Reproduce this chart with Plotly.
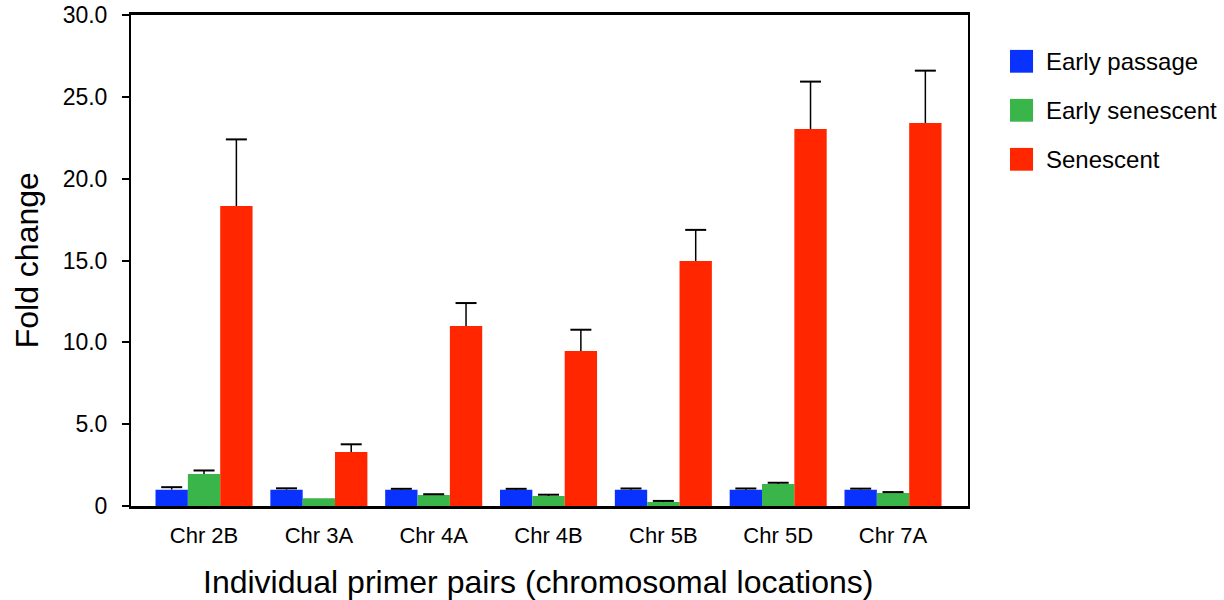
import plotly.graph_objects as go

categories = ["Chr 2B", "Chr 3A", "Chr 4A", "Chr 4B", "Chr 5B", "Chr 5D", "Chr 7A"]
series_names = ["Early passage", "Early senescent", "Senescent"]
early_passage = [1.0, 1.0, 1.0, 1.0, 1.0, 1.0, 1.0]
early_passage_err = [0.15, 0.08, 0.05, 0.05, 0.07, 0.07, 0.06]
early_senescent = [1.95, 0.47, 0.67, 0.61, 0.24, 1.34, 0.79]
early_senescent_err = [0.22, 0.0, 0.05, 0.08, 0.07, 0.08, 0.06]
senescent = [18.33, 3.30, 11.0, 9.47, 14.97, 23.03, 23.4]
senescent_err = [4.07, 0.47, 1.4, 1.3, 1.9, 2.9, 3.2]
colors = ["#0A32FF", "#39B54A", "#FF2600"]
y_ticks = [0, 5, 10, 15, 20, 25, 30]
y_tick_labels = ["0", "5.0", "10.0", "15.0", "20.0", "25.0", "30.0"]

FONT = "Liberation Sans, Arial, sans-serif"
x_pos = list(range(len(categories)))
group_width = 0.845
bar_w = group_width / 3

fig = go.Figure()
all_vals = [early_passage, early_senescent, senescent]
all_errs = [early_passage_err, early_senescent_err, senescent_err]
for i, (name, vals, errs, col) in enumerate(zip(series_names, all_vals, all_errs, colors)):
    offset = -group_width / 2 + i * bar_w
    fig.add_trace(go.Bar(
        x=x_pos, y=vals, name=name, width=bar_w, offset=offset,
        marker=dict(color=col, line=dict(width=0)),
        showlegend=False,
    ))
    # upper error bar only: stem from the bar top and a cap at its end
    centers = [x + offset + bar_w / 2 for x in x_pos]
    sx, sy, cx_list, cy_list = [], [], [], []
    for cx, v, e in zip(centers, vals, errs):
        if e <= 0:
            continue
        sx += [cx, cx, None]
        sy += [v, v + e, None]
        cx_list.append(cx)
        cy_list.append(v + e)
    fig.add_trace(go.Scatter(
        x=sx, y=sy, mode="lines", line=dict(color="black", width=1.5),
        hoverinfo="skip", showlegend=False,
    ))
    fig.add_trace(go.Scatter(
        x=cx_list, y=cy_list, mode="markers",
        marker=dict(symbol="line-ew", size=15, line=dict(color="black", width=2)),
        hoverinfo="skip", showlegend=False,
    ))

# legend drawn as coloured squares with labels beside them
for i, (name, col) in enumerate(zip(series_names, colors)):
    yc = 0.9057 - i * 0.0998
    fig.add_shape(type="rect", xref="paper", yref="paper",
                  x0=1.0502, x1=1.0777, y0=yc - 0.0232, y1=yc + 0.0232,
                  fillcolor=col, line=dict(width=0))
    fig.add_annotation(xref="paper", yref="paper", x=1.0905, y=yc, text=name,
                       showarrow=False, xanchor="left", yanchor="middle",
                       font=dict(family=FONT, size=24, color="black"))

# axis titles
fig.add_annotation(xref="paper", yref="paper", x=0.4863, y=-0.1548,
                   text="Individual primer pairs (chromosomal locations)",
                   showarrow=False, xanchor="center", yanchor="middle",
                   font=dict(family=FONT, size=32, color="black"))
fig.add_annotation(xref="paper", yref="paper", x=-0.1245, y=0.5, textangle=-90,
                   text="Fold change", showarrow=False, xanchor="center", yanchor="middle",
                   font=dict(family=FONT, size=32, color="black"))

fig.update_layout(
    width=1224, height=600,
    margin=dict(l=131, r=256, t=15, b=94),
    plot_bgcolor="white", paper_bgcolor="white",
    barmode="overlay",
    font=dict(family=FONT, color="black"),
    xaxis=dict(
        range=[-0.636, 6.653], tickmode="array", tickvals=x_pos, ticktext=categories,
        showgrid=False, zeroline=False, ticks="", showline=True, linecolor="black",
        linewidth=3, mirror=True, tickfont=dict(size=22), automargin=False,
        ticklabelstandoff=8,
    ),
    yaxis=dict(
        range=[0, 30], tickmode="array", tickvals=y_ticks, ticktext=y_tick_labels,
        showgrid=False, zeroline=False, ticks="outside", ticklen=7, tickwidth=2,
        tickcolor="black", showline=True, linecolor="black", linewidth=2, mirror=True,
        tickfont=dict(size=23), automargin=False, ticklabelstandoff=10,
    ),
)

fig.write_html("out.html")
